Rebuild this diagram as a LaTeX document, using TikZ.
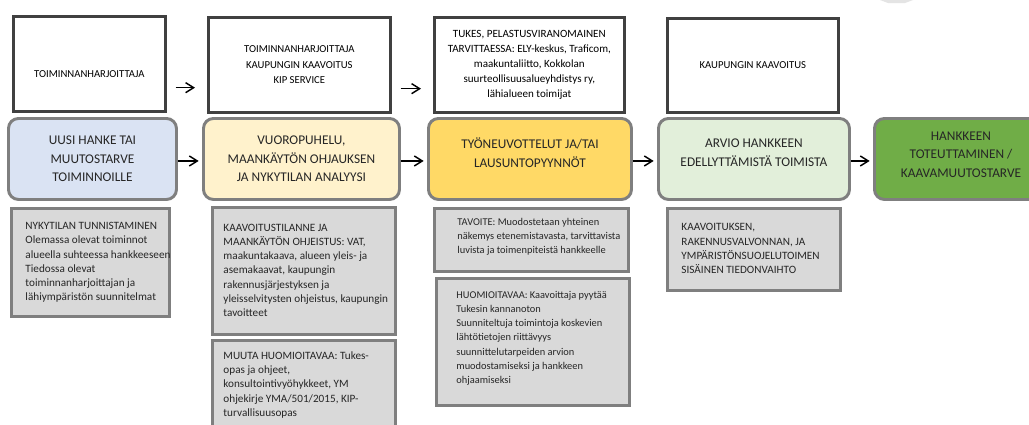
\documentclass[tikz,border=0pt]{standalone}
\usepackage{fontspec}
\setmainfont{Carlito}
\usetikzlibrary{arrows.meta,calc}
\definecolor{frame}{HTML}{404040}
\definecolor{rim}{HTML}{7F7F7F}
\definecolor{ink}{HTML}{262626}
\definecolor{note}{HTML}{D9D9D9}
\definecolor{phaseA}{HTML}{DAE3F3}
\definecolor{phaseB}{HTML}{FFF2CC}
\definecolor{phaseC}{HTML}{FFD966}
\definecolor{phaseD}{HTML}{E2EFDA}
\definecolor{phaseE}{HTML}{70AD47}
% left aligned lines in a box of fixed width
\newcommand\notelines[2]{\makebox[#1][l]{\begin{tabular}{@{}l@{}}#2\end{tabular}}}
\tikzset{
  sz/.style 2 args={minimum width=#1*0.75pt, minimum height=#2*0.75pt},
  whobox/.style={draw=frame, line width=2pt, fill=white, anchor=north west,
    align=center, inner sep=0pt, font=\fontsize{8}{11.5}\selectfont},
  phasebox/.style={draw=rim, line width=2.2pt, rounded corners=7.5pt,
    anchor=north west, align=center, inner sep=0pt, text=ink,
    font=\fontsize{10}{13.9}\selectfont},
  notebox/.style={draw=rim, line width=2.2pt, fill=note, anchor=north west,
    inner sep=0pt, text=ink, font=\fontsize{8.4}{10.7}\selectfont},
  small/.style={font=\fontsize{7.8}{10.7}\selectfont},
  arr/.style={-{Straight Barb[length=6pt,width=7.5pt]}, line width=1.1pt},
}
\begin{document}
\begin{tikzpicture}[x=0.75pt,y=-0.75pt]
  \clip (0,0) rectangle (1029,425);
  \fill[white] (0,0) rectangle (1029,425);
  \fill[note!70] (880,0) -- (913,0) -- (905,3) -- (888,3) -- cycle;
  % who is involved
  \node[whobox, sz={152}{95}, text height=21pt] (t1) at (12,15) {TOIMINNANHARJOITTAJA};
  \node[whobox, sz={182}{95}] (t2) at (207,16)
    {TOIMINNANHARJOITTAJA\\KAUPUNGIN KAAVOITUS\\KIP SERVICE};
  \node[whobox, sz={190}{95}, font=\fontsize{8.3}{11.3}\selectfont] (t3) at (433,16)
    {TUKES, PELASTUSVIRANOMAINEN\\TARVITTAESSA: ELY-keskus, Traficom,\\maakuntaliitto, Kokkolan\\suurteollisuusalueyhdistys ry,\\lähialueen toimijat};
  \node[whobox, sz={171}{94}] (t4) at (666,17) {KAUPUNGIN KAAVOITUS};
  % phases
  \node[phasebox, fill=phaseA, sz={168}{81}] (m1) at (7,117)
    {UUSI HANKE TAI\\MUUTOSTARVE\\TOIMINNOILLE};
  \node[phasebox, fill=phaseB, sz={196}{81}] (m2) at (202,117)
    {VUOROPUHELU,\\MAANKÄYTÖN OHJAUKSEN\\JA NYKYTILAN ANALYYSI};
  \node[phasebox, fill=phaseC, sz={203}{81}, text depth=9.5pt] (m3) at (427,117)
    {TYÖNEUVOTTELUT JA/TAI\\LAUSUNTOPYYNNÖT};
  \node[phasebox, fill=phaseD, sz={191}{81}, text depth=9.5pt] (m4) at (657,117)
    {ARVIO HANKKEEN\\EDELLYTTÄMISTÄ TOIMISTA};
  \node[phasebox, fill=phaseE, sz={173}{81}, text depth=7pt] (m5) at (873,117)
    {HANKKEEN\\TOTEUTTAMINEN /\\KAAVAMUUTOSTARVE};
  % notes
  \node[notebox, sz={158}{108}] (g1) at (10,207)
    {\notelines{97.5pt}{NYKYTILAN TUNNISTAMINEN\\Olemassa olevat toiminnot\\alueella suhteessa hankkeeseen\\Tiedossa olevat\\toiminnanharjoittajan ja\\lähiympäristön suunnitelmat}};
  \node[notebox, sz={183}{127}] (g2) at (211,206)
    {\notelines{120.75pt}{KAAVOITUSTILANNE JA\\MAANKÄYTÖN OHJEISTUS: VAT,\\maakuntakaava, alueen yleis- ja\\asemakaavat, kaupungin\\rakennusjärjestyksen ja\\yleisselvitysten ohjeistus, kaupungin\\tavoitteet}};
  \node[notebox, sz={183}{89}] (g3) at (211,339)
    {\notelines{120.75pt}{MUUTA HUOMIOITAVAA: Tukes-\\opas ja ohjeet,\\konsultointivyöhykkeet, YM\\ohjekirje YMA/501/2015, KIP-\\turvallisuusopas}};
  \node[notebox, small, sz={194}{63}] (g4) at (433,207)
    {\notelines{111pt}{TAVOITE: Muodostetaan yhteinen\\näkemys etenemistavasta, tarvittavista\\luvista ja toimenpiteistä hankkeelle\\[5pt]}};
  \node[notebox, small, sz={193}{127}] (g5) at (435,277)
    {\notelines{114.75pt}{HUOMIOITAVAA: Kaavoittaja pyytää\\Tukesin kannanoton\\Suunniteltuja toimintoja koskevien\\lähtötietojen riittävyys\\suunnittelutarpeiden arvion\\muodostamiseksi ja hankkeen\\ohjaamiseksi\\[6pt]}};
  \node[notebox, sz={173}{82}] (g6) at (666,207)
    {\notelines{108.75pt}{KAAVOITUKSEN,\\RAKENNUSVALVONNAN, JA\\YMPÄRISTÖNSUOJELUTOIMEN\\SISÄINEN TIEDONVAIHTO}};
  % arrows
  \foreach \a/\b in {t1/t2,t2/t3}
    \draw[arr, shorten >=9pt] ($(\a.south east)+(9,-25)$) coordinate (s) -- (s -| \b.west);
  \foreach \a/\b in {m1/m2,m2/m3,m3/m4,m4/m5}
    \draw[arr, shorten >=2.5pt] ([yshift=-1.5pt]\a.east) -- ([yshift=-1.5pt]\b.west);
\end{tikzpicture}
\end{document}
